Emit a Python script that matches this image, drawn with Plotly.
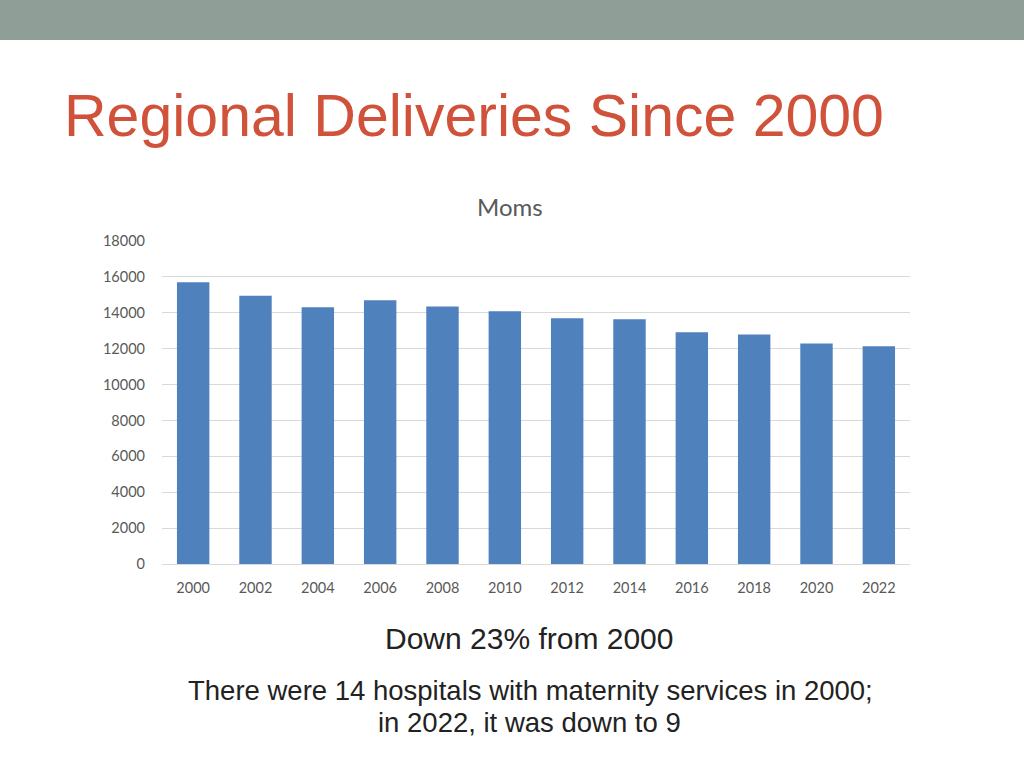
import plotly.graph_objects as go

years = ["2000", "2002", "2004", "2006", "2008", "2010", "2012", "2014", "2016", "2018", "2020", "2022"]
moms = [15700, 14950, 14310, 14700, 14350, 14090, 13700, 13640, 12920, 12790, 12285, 12130]
y_ticks = [0, 2000, 4000, 6000, 8000, 10000, 12000, 14000, 16000, 18000]

# pixel helpers (plot area: x 162..910, y 241..564)
L, R, T, B = 162, 910, 241, 564
def px(x):
    return (x - L) / (R - L)
def py(y):
    return (B - y) / (B - T)

fig = go.Figure()
fig.add_trace(go.Bar(x=years, y=moms, marker=dict(color="#4f81bd", line=dict(width=0)), name="Moms"))

tick_font = dict(family="Lato, Carlito, Calibri, sans-serif", size=14.5, color="#595959")
fig.update_layout(
    width=1024, height=768,
    margin=dict(l=L, r=1024 - R, t=T, b=768 - B),
    paper_bgcolor="white", plot_bgcolor="white",
    bargap=0.48,
    showlegend=False,
    font=dict(family="Lato, sans-serif", color="#595959"),
    xaxis=dict(type="category", tickfont=tick_font, showgrid=False,
               showline=True, linecolor="#d9d9d9", linewidth=1, ticks="", ticklen=0,
               ticklabelstandoff=11),
    yaxis=dict(range=[0, 18000], tickvals=y_ticks, tickformat="d", tickfont=tick_font,
               showgrid=True, gridcolor="#d9d9d9", gridwidth=1, zeroline=False, ticks="",
               showline=False, ticklabelstandoff=16),
    shapes=[dict(type="rect", xref="paper", yref="paper", x0=px(-10), x1=px(1040),
                 y0=py(40), y1=py(-10), fillcolor="#8f9e97", line=dict(width=0), layer="below")],
    annotations=[
        dict(text="Regional Deliveries Since 2000", xref="paper", yref="paper",
             x=px(62), y=py(116), xanchor="left", yanchor="middle", showarrow=False,
             font=dict(family="Liberation Sans, Arial", size=59, color="#d0523a")),
        dict(text="Moms", xref="paper", yref="paper", x=px(510), y=py(207),
             xanchor="center", yanchor="middle", showarrow=False,
             font=dict(family="Lato, sans-serif", size=24, color="#595959")),
        dict(text="Down 23% from 2000", xref="paper", yref="paper", x=px(529), y=py(638),
             xanchor="center", yanchor="middle", showarrow=False,
             font=dict(family="Liberation Sans, Arial", size=30, color="#222222")),
        dict(text="There were 14 hospitals with maternity services in 2000;",
             xref="paper", yref="paper", x=px(530), y=py(690),
             xanchor="center", yanchor="middle", showarrow=False,
             font=dict(family="Liberation Sans, Arial", size=27.5, color="#222222")),
        dict(text="in 2022, it was down to 9",
             xref="paper", yref="paper", x=px(529), y=py(722),
             xanchor="center", yanchor="middle", showarrow=False,
             font=dict(family="Liberation Sans, Arial", size=27.5, color="#222222")),
    ],
)
fig.write_html("out.html", config={"displayModeBar": False},
               post_script="document.body.style.margin='0';document.body.style.overflow='hidden';")
